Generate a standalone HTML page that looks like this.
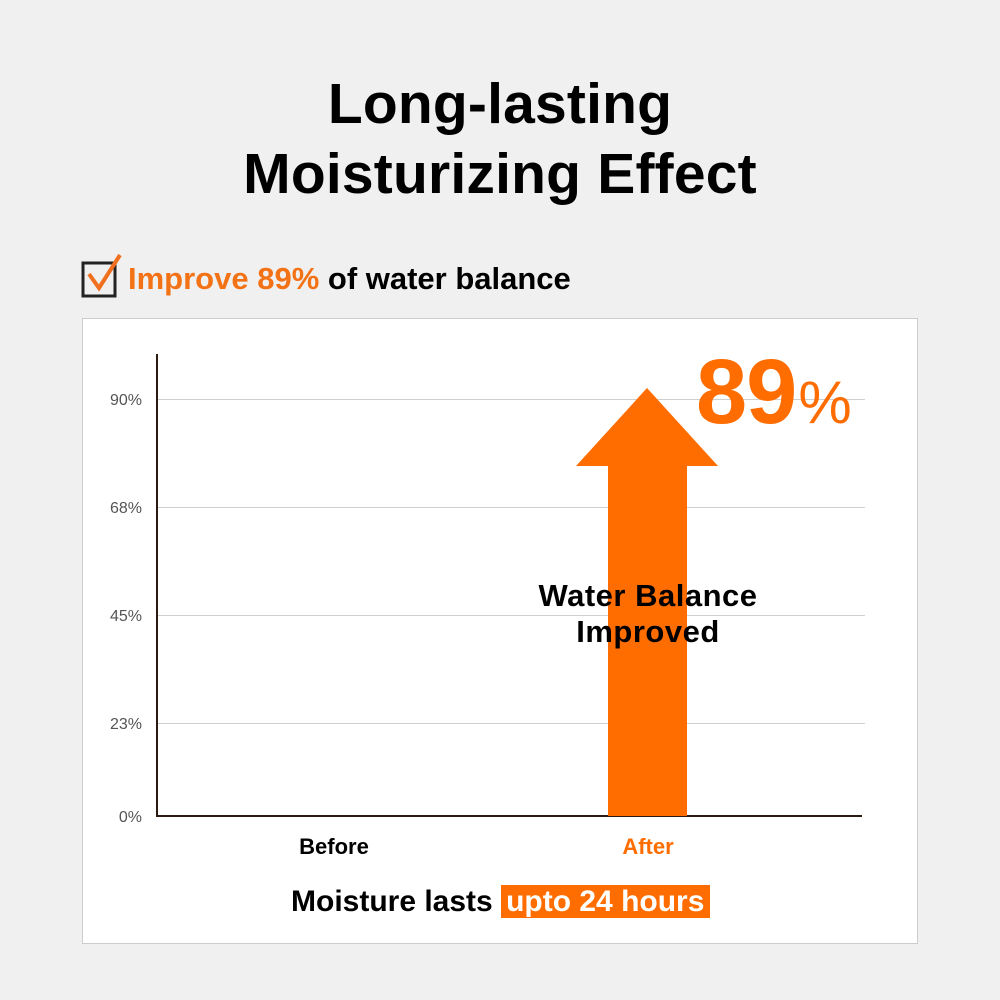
<!DOCTYPE html>
<html><head><style>
body{margin:0;width:1000px;height:1000px;background:#f0f0f0;position:relative;font-family:"Liberation Sans",sans-serif;overflow:hidden}
.a{position:absolute}
.t{position:absolute;left:0;width:1000px;text-align:center;font-weight:bold;font-size:57px;color:#000;letter-spacing:0.2px}
.g{position:absolute;left:157px;width:708px;height:1px;background:#cfcfcf}
.yl{position:absolute;left:90px;width:52px;text-align:right;font-size:16px;color:#555}
</style></head><body>
<div class="t" style="top:71px">Long-lasting</div>
<div class="t" style="top:141px">Moisturizing Effect</div>
<svg class="a" style="left:80px;top:252px" width="46" height="48">
<rect x="3" y="11" width="32" height="33" fill="none" stroke="#222" stroke-width="3"/>
<polyline points="9,22 19,36 40,3" fill="none" stroke="#f07020" stroke-width="4"/>
</svg>
<div class="a" style="left:128px;top:261px;font-size:31px;font-weight:bold;color:#000;letter-spacing:0px"><span style="color:#f47216">Improve 89%</span> of water balance</div>
<div class="a" style="left:82px;top:318px;width:834px;height:624px;background:#fff;border:1px solid #ccc"></div>
<div class="g" style="top:399px"></div>
<div class="g" style="top:507px"></div>
<div class="g" style="top:615px"></div>
<div class="g" style="top:723px"></div>
<div class="a" style="left:156px;top:354px;width:2px;height:463px;background:#2a1a10"></div>
<div class="a" style="left:156px;top:815px;width:706px;height:2px;background:#2a1a10"></div>
<div class="yl" style="top:392px">90%</div>
<div class="yl" style="top:500px">68%</div>
<div class="yl" style="top:608px">45%</div>
<div class="yl" style="top:716px">23%</div>
<div class="yl" style="top:809px">0%</div>
<svg class="a" style="left:0;top:0" width="1000" height="1000">
<polygon points="647,388 718,466 687,466 687,816 608,816 608,466 576,466" fill="#ff6d00"/>
</svg>
<div class="a" style="left:696px;top:340px;font-size:92px;font-weight:bold;color:#ff6d00;letter-spacing:-1px">89<span style="font-size:60px;font-weight:normal;letter-spacing:0;margin-left:2px">%</span></div>
<div class="a" style="left:498px;top:578px;width:300px;text-align:center;font-size:31px;font-weight:bold;line-height:36px;color:#000;letter-spacing:0.5px">Water Balance<br>Improved</div>
<div class="a" style="left:234px;top:834px;width:200px;text-align:center;font-size:22px;font-weight:bold;color:#000">Before</div>
<div class="a" style="left:548px;top:834px;width:200px;text-align:center;font-size:22px;font-weight:bold;color:#ff6d00">After</div>
<div class="a" style="left:291px;top:881px;font-size:30px;font-weight:bold;color:#000;letter-spacing:0px;line-height:42px">Moisture lasts <span style="background:#ff6d00;color:#fff;padding:0 6px 0 5px">upto 24 hours</span></div>
</body></html>
